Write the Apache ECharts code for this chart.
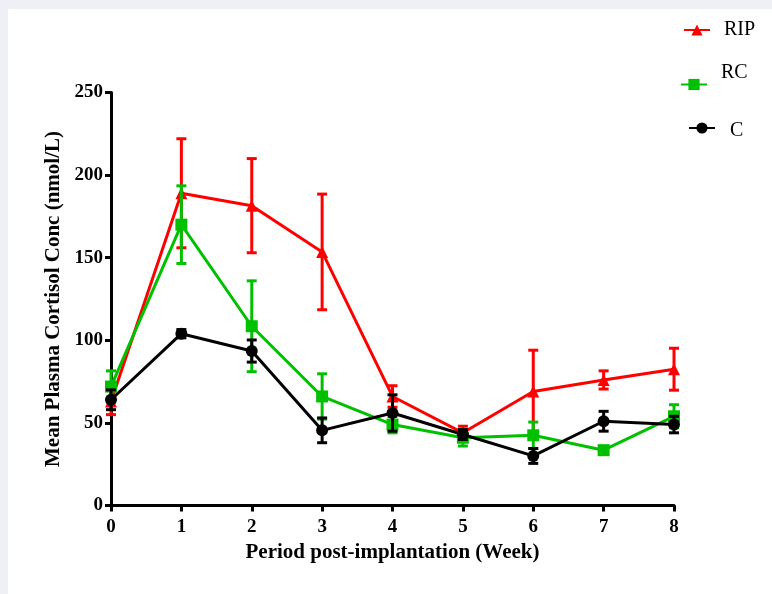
<!DOCTYPE html>
<html>
<head>
<meta charset="utf-8">
<script src="https://cdn.jsdelivr.net/npm/echarts@6/dist/echarts.min.js"></script>
<style>
html,body{margin:0;padding:0;background:#eff0f6;}
#bg{position:absolute;left:8px;top:9px;right:0;bottom:0;background:#fff;}
#main{position:absolute;left:0;top:0;width:772px;height:594px;}
</style>
</head>
<body>
<div id="bg"></div>
<div id="main"></div>
<script>
const weeks = [0,1,2,3,4,5,6,7,8];
const ripMean = [63,189,181.5,153.5,66,44,69,76,82.5];
const ripErr  = [8,33,28.5,35,6.5,4,25,5.5,12.7];
const rcMean  = [72,170,108.5,66,49,41,42.5,33.5,54];
const rcErr   = [9.5,23.5,27.5,13.7,5,5,8,2,7];
const cMean   = [64,104,93.5,45.5,56,43,30,51,49];
const cErr    = [6,2.5,6.7,7.5,11,3,4.5,6,5];
const yTicks  = [0,50,100,150,200,250];

const serif = "'Liberation Serif','Times New Roman',serif";
const RED = '#ff0000', GREEN = '#00c000', BLACK = '#000000';

function pts(means){ return weeks.map((w,i)=>[w,means[i]]); }
function errData(means, errs){ return weeks.map((w,i)=>[w, means[i]-errs[i], means[i]+errs[i]]); }
function errSeries(name, means, errs, color, z){
  return {
    type:'custom', name: name+'_err', z:z, silent:true,
    data: errData(means, errs),
    encode:{x:0, y:[1,2]},
    renderItem: function(params, api){
      const lo = api.coord([api.value(0), api.value(1)]);
      const hi = api.coord([api.value(0), api.value(2)]);
      const hw = 5;
      const st = {stroke:color, lineWidth:3};
      return {type:'group', children:[
        {type:'line', shape:{x1:lo[0],y1:lo[1],x2:hi[0],y2:hi[1]}, style:st},
        {type:'line', shape:{x1:lo[0]-hw,y1:lo[1],x2:lo[0]+hw,y2:lo[1]}, style:st},
        {type:'line', shape:{x1:hi[0]-hw,y1:hi[1],x2:hi[0]+hw,y2:hi[1]}, style:st}
      ]};
    }
  };
}
function lineSeries(name, means, color, symbol, size, z){
  return {
    type:'line', name:name, z:z, data: pts(means),
    symbol:symbol, symbolSize:size, showSymbol:true,
    lineStyle:{color:color, width:3},
    itemStyle:{color:color},
    emphasis:{disabled:true}, animation:false
  };
}
function legendFor(name, left, top, pad){
  return {
    data:[name], left:left, top:top, padding:0, itemWidth:26, itemHeight:14,
    formatter: '{t|{name}}',
    textStyle:{
      rich:{ t:{fontFamily:serif, fontSize:20, color:'#000', padding:pad, lineHeight:20} }
    }
  };
}

const chart = echarts.init(document.getElementById('main'), null, {renderer:'canvas'});
chart.setOption({
  backgroundColor:'transparent',
  animation:false,
  grid:{left:111, right:98, top:92.5, bottom:88.5},
  legend:[
    legendFor('RIP', 683, 20, [0,0,0,9]),
    legendFor('RC', 680, 62.5, [0,0,24,9]),
    legendFor('C', 688, 115, [6,0,0,10])
  ],
  xAxis:{
    type:'value', min:0, max:8, interval:1,
    name:'Period post-implantation (Week)', nameLocation:'middle', nameGap:37,
    nameTextStyle:{fontFamily:serif, fontWeight:'bold', fontSize:21, color:'#000'},
    axisLine:{show:true, onZero:false, lineStyle:{color:'#000', width:3}},
    axisTick:{show:true, length:6, lineStyle:{color:'#000', width:3}},
    axisLabel:{fontFamily:serif, fontWeight:'bold', fontSize:19, color:'#000', margin:12},
    splitLine:{show:false}
  },
  yAxis:{
    type:'value', min:yTicks[0], max:yTicks[yTicks.length-1], interval:50,
    name:'Mean Plasma Cortisol Conc (nmol/L)', nameLocation:'middle', nameGap:46,
    nameTextStyle:{fontFamily:serif, fontWeight:'bold', fontSize:21, color:'#000'},
    axisLine:{show:true, lineStyle:{color:'#000', width:3}},
    axisTick:{show:true, length:6, lineStyle:{color:'#000', width:3}},
    axisLabel:{fontFamily:serif, fontWeight:'bold', fontSize:19, color:'#000', margin:8},
    splitLine:{show:false}
  },
  series:[
    errSeries('RIP', ripMean, ripErr, RED, 2),
    lineSeries('RIP', ripMean, RED, 'triangle', 12, 3),
    errSeries('RC', rcMean, rcErr, GREEN, 4),
    lineSeries('RC', rcMean, GREEN, 'rect', 12, 5),
    errSeries('C', cMean, cErr, BLACK, 6),
    lineSeries('C', cMean, BLACK, 'circle', 12, 7)
  ]
});
</script>
</body>
</html>
